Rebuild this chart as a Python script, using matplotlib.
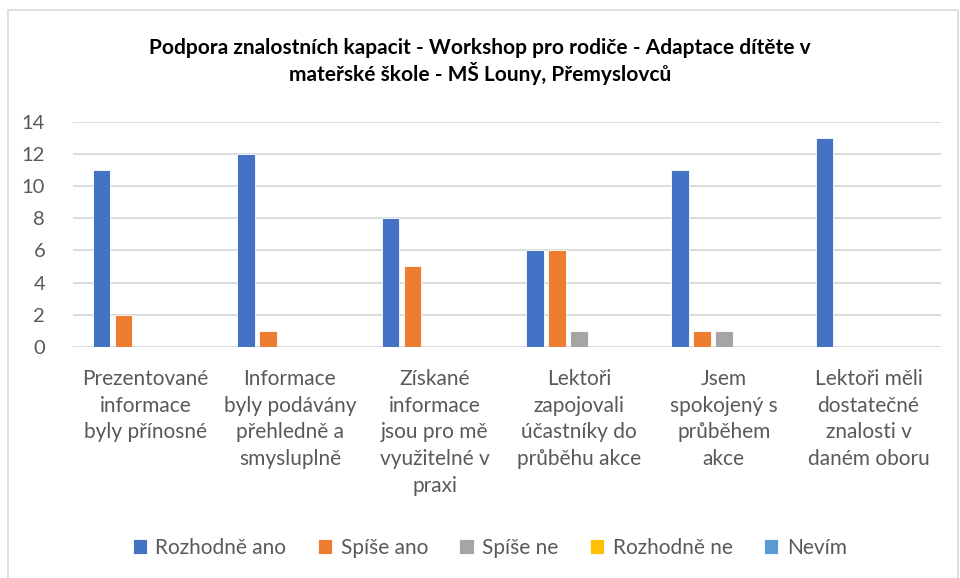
import numpy as np
import matplotlib.pyplot as plt
from matplotlib.patches import Rectangle

plt.rcParams['font.family'] = ['Lato', 'DejaVu Sans']

kategorie = [
    "Prezentované\ninformace\nbyly přínosné",
    "Informace\nbyly podávány\npřehledně a\nsmysluplně",
    "Získané\ninformace\njsou pro mě\nvyužitelné v\npraxi",
    "Lektoři\nzapojovali\núčastníky do\nprůběhu akce",
    "Jsem\nspokojený s\nprůběhem\nakce",
    "Lektoři měli\ndostatečné\nznalosti v\ndaném oboru",
]
serie = ["Rozhodně ano", "Spíše ano", "Spíše ne", "Rozhodně ne", "Nevím"]
rozhodne_ano = [11, 12, 8, 6, 11, 13]
spise_ano = [2, 1, 5, 6, 1, 0]
spise_ne = [0, 0, 0, 1, 1, 0]
rozhodne_ne = [0, 0, 0, 0, 0, 0]
nevim = [0, 0, 0, 0, 0, 0]
hodnoty = [rozhodne_ano, spise_ano, spise_ne, rozhodne_ne, nevim]
barvy = ["#4472C4", "#ED7D31", "#A5A5A5", "#FFC000", "#5B9BD5"]

fig = plt.figure(figsize=(9.6, 5.78), dpi=100)
ax = fig.add_axes([0.076, 0.40, 0.904, 0.389])

x = np.arange(len(kategorie))
krok = 0.152
sirka = 0.121
for i, (nazev, vals, c) in enumerate(zip(serie, hodnoty, barvy)):
    ax.bar(x + (i - 2) * krok, vals, width=sirka, color=c, label=nazev,
           edgecolor='white', linewidth=0.6, zorder=3)

ax.set_xlim(-0.5, len(kategorie) - 0.5)
ax.set_ylim(0, 14)
ax.set_yticks(range(0, 15, 2))
ax.yaxis.grid(True, color='#D9D9D9', linewidth=1.3, zorder=0)
ax.set_axisbelow(True)
for s in ax.spines.values():
    s.set_visible(False)
ax.tick_params(axis='both', length=0, colors='#595959')
ax.tick_params(axis='y', labelsize=14.5, pad=20)
ax.set_xticks(x)
ax.set_xticklabels(kategorie, fontsize=15, color='#595959', linespacing=1.42,
                   va='top')
ax.tick_params(axis='x', pad=16)

fig.text(0.5, 0.894, "Podpora znalostních kapacit - Workshop pro rodiče - Adaptace dítěte v\n"
         "mateřské škole - MŠ Louny, Přemyslovců",
         ha='center', va='center', fontsize=15, fontweight='bold',
         color='black', linespacing=1.2)

fig.legend(loc='center', bbox_to_anchor=(0.51, 0.052), ncol=5, frameon=False,
           fontsize=15, handlelength=0.7, handleheight=0.7, handletextpad=0.4,
           columnspacing=1.5, labelcolor='#595959')

fig.patches.append(Rectangle((0.008, -0.01), 0.99, 0.993, transform=fig.transFigure,
                             fill=False, edgecolor='#D9D9D9', linewidth=1.2))

fig.savefig('out.png', dpi=100, facecolor='white')
